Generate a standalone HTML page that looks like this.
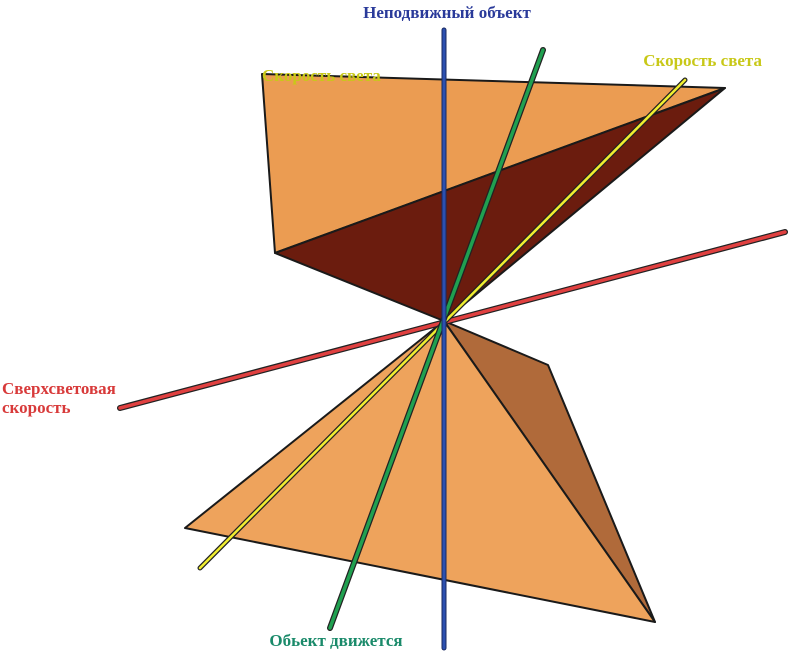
<!DOCTYPE html>
<html><head><meta charset="utf-8"><style>
html,body{margin:0;padding:0;background:#fff;width:789px;height:651px;overflow:hidden}
svg{display:block}
text{font-family:"Liberation Serif",serif;font-weight:bold;font-size:17px}
</style></head><body>
<svg width="789" height="651" viewBox="0 0 789 651">
<g stroke="#1a1a1a" stroke-width="2" stroke-linejoin="round">
<polygon points="262,74 725,88 275,253" fill="#eb9c52"/>
<polygon points="275,253 725,88 444,321" fill="#6b1c0e"/>
<polygon points="444,321 548,365 655,622" fill="#b06a3a"/>
<polygon points="444,321 185,528 655,622" fill="#eea35c"/>
</g>
<text x="262" y="81" fill="#c8c818" font-size="18">Скорость света</text>
<g stroke-linecap="round">
<line x1="785" y1="232" x2="120" y2="408" stroke="#222" stroke-width="6"/>
<line x1="785" y1="232" x2="120" y2="408" stroke="#e04040" stroke-width="3.5"/>
<line x1="685" y1="80" x2="200" y2="568" stroke="#222" stroke-width="5"/>
<line x1="685" y1="80" x2="200" y2="568" stroke="#f0ee30" stroke-width="2.5"/>
<line x1="543" y1="50" x2="330" y2="628" stroke="#222" stroke-width="6"/>
<line x1="543" y1="50" x2="330" y2="628" stroke="#20a050" stroke-width="3.5"/>
<line x1="444" y1="30" x2="444" y2="648" stroke="#1a2a60" stroke-width="5"/>
<line x1="444" y1="30" x2="444" y2="648" stroke="#2c50b0" stroke-width="3"/>
</g>
<text x="447" y="18" fill="#2a3a9a" text-anchor="middle">Неподвижный объект</text>
<text x="762" y="66" fill="#c8c818" text-anchor="end">Скорость света</text>
<text x="2" y="394" fill="#d83a3a">Сверхсветовая</text>
<text x="2" y="413" fill="#d83a3a">скорость</text>
<text x="336" y="646" fill="#1a8a6a" text-anchor="middle">Обьект движется</text>
</svg>
</body></html>
